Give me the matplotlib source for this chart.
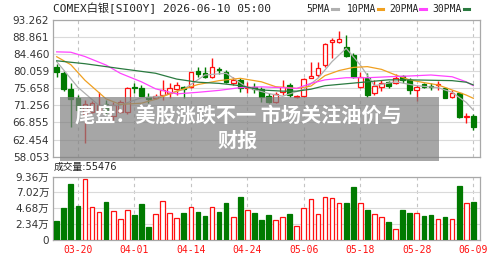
import numpy as np
import matplotlib
matplotlib.use("Agg")
import matplotlib.pyplot as plt
from matplotlib.patches import Rectangle
from matplotlib.lines import Line2D

# daily candles, COMEX silver
opens = [81.01, 79.47, 75.44, 73.2, 69.0, 69.6, 69.6, 71.5, 68.4, 69.6,
         69.6, 76.04, 75.62, 73.47, 73.22, 73.9, 74.33, 75.44, 75.9, 76.04,
         80.07, 79.47, 78.61, 80.6, 79.9, 77.07, 77.76, 75.7, 76.04, 75.44,
         73.65, 72.02, 74.59, 76.47, 73.39, 73.65, 78.36, 79.04, 81.61, 87.61,
         87.61, 86.32, 84.18, 76.04, 78.19, 74.5, 76.04, 77.33, 77.07, 78.79,
         77.76, 75.19, 76.64, 76.3, 76.56, 75.62, 73.47, 74.33, 68.25, 68.5]
highs = [81.87, 80.07, 76.9, 73.9, 72.5, 72.36, 74.76, 72.6, 72.02, 72.6,
         76.04, 76.9, 76.6, 74.33, 74.07, 77.76, 76.9, 77.33, 76.3, 79.9,
         81.18, 81.18, 83.33, 81.18, 80.33, 78.61, 78.19, 77.33, 76.9, 76.04,
         74.33, 74.76, 77.76, 76.9, 73.9, 78.19, 82.47, 82.47, 87.18, 88.46,
         90.35, 89.32, 84.61, 79.9, 79.47, 77.76, 77.76, 77.5, 79.21, 79.04,
         78.36, 76.47, 77.07, 76.9, 77.5, 75.79, 75.19, 74.76, 69.19, 68.93]
lows = [78.61, 74.93, 65.76, 68.8, 61.5, 69.19, 68.9, 68.8, 67.48, 69.19,
        68.94, 74.33, 73.9, 71.76, 72.87, 72.62, 73.05, 73.9, 73.1, 75.62,
        78.61, 78.19, 78.19, 79.21, 76.9, 76.47, 74.76, 74.33, 74.33, 72.19,
        71.76, 71.76, 73.9, 73.47, 73.22, 73.47, 78.19, 78.61, 81.18, 83.5,
        87.18, 83.75, 78.19, 75.62, 73.47, 73.9, 74.93, 75.79, 76.64, 76.9,
        74.07, 72.36, 75.62, 75.19, 75.19, 73.05, 73.05, 67.9, 66.62, 64.91]
closes = [79.73, 75.44, 72.87, 70.05, 71.5, 71.76, 71.33, 69.6, 71.33, 72.02,
          75.61, 75.61, 73.65, 72.87, 73.65, 75.19, 75.62, 76.47, 75.5, 79.73,
          79.21, 78.61, 81.18, 80.24, 77.33, 77.76, 75.62, 75.96, 75.44, 73.47,
          72.02, 74.16, 76.04, 73.9, 73.56, 77.93, 78.87, 80.93, 86.92, 88.04,
          88.29, 84.01, 78.61, 78.61, 73.9, 76.3, 76.9, 76.3, 78.36, 77.76,
          75.19, 76.04, 76.04, 75.96, 76.73, 73.22, 74.5, 68.33, 68.5, 65.76]
# volume, in 万
volumes = [2.75, 4.71, 8.2, 5.0, 9.0, 4.81, 4.07, 5.5, 4.22, 3.0,
           4.37, 3.58, 5.25, 1.91, 3.83, 5.65, 3.93, 3.14, 3.88, 4.81,
           4.12, 3.44, 4.81, 4.12, 5.4, 3.29, 6.38, 4.37, 3.88, 2.9,
           3.63, 2.9, 3.29, 3.78, 2.06, 4.66, 6.04, 3.73, 6.33, 6.19,
           5.4, 5.4, 7.76, 5.4, 4.42, 3.73, 3.29, 2.6, 1.57, 4.42,
           3.88, 3.98, 3.49, 3.63, 3.04, 3.34, 3.04, 7.9, 5.4, 5.55]

ma5_idx = [0, 3, 6, 9, 12, 15, 18, 21, 24, 27, 30, 32, 35, 37, 39, 41, 43, 45, 48, 51, 54, 56, 58, 59]
ma5 = [82.5, 75.9, 71.2, 71.3, 73.2, 73.6, 75.4, 79.05, 79.5, 75.8, 74.3, 73.6, 75.4, 78.2,
       82.5, 85.9, 81.6, 76.3, 77.3, 76.3, 75.8, 74.6, 72.0, 70.05]
ma10_idx = [0, 2, 4, 7, 9, 12, 14, 17, 20, 23, 26, 29, 31, 34, 36, 38, 40, 42, 44, 46, 48, 50, 52, 54, 56, 58, 59]
ma10 = [83.75, 81.7, 77.7, 72.9, 71.5, 71.8, 72.8, 74.9, 76.6, 77.6, 78.2, 77.3, 76.05, 75.6,
        76.2, 78.9, 80.2, 81.0, 81.2, 80.5, 79.05, 77.8, 77.1, 76.5, 75.2, 73.9, 73.06]
ma20_idx = [0, 2, 4, 7, 9, 12, 14, 17, 20, 23, 26, 29, 32, 34, 36, 38, 41, 44, 47, 50, 53, 56, 58, 59]
ma20 = [85.0, 84.9, 83.8, 81.6, 79.5, 77.3, 75.5, 74.2, 74.6, 75.1, 75.8, 76.0, 75.8, 75.6,
        76.9, 77.8, 78.35, 78.35, 78.6, 78.8, 79.05, 78.6, 77.3, 76.3]
ma30_idx = [0, 4, 9, 14, 17, 20, 23, 26, 29, 32, 34, 36, 38, 41, 44, 47, 50, 53, 56, 58, 59]
ma30 = [82.7, 81.95, 80.7, 79.5, 78.0, 77.2, 76.9, 76.3, 75.2, 74.9, 74.9, 75.4, 76.3, 76.8,
        77.3, 77.8, 77.8, 77.7, 77.6, 77.2, 76.5]

date_idx = [3, 11, 19, 27, 35, 43, 51, 59]
date_labels = ["03-20", "04-01", "04-14", "04-24", "05-06", "05-18", "05-28", "06-09"]
price_ticks = [58.053, 62.454, 66.855, 71.256, 75.658, 80.059, 84.460, 88.861, 93.262]
vol_ticks = [0, 2.34, 4.68, 7.02, 9.36]
vol_labels = ["0", "2.34万", "4.68万", "7.02万", "9.36万"]

RED = "#ff1010"
GREEN = "#007a00"
CJK = ["DejaVu Sans", "Noto Sans CJK SC"]
MONO = ["DejaVu Sans Mono", "Noto Sans CJK SC"]

W, H = 500, 260
fig = plt.figure(figsize=(5, 2.6), dpi=100)


def box(l, t, r, b):
    return [l / W, 1 - b / H, (r - l) / W, (b - t) / H]


ax = fig.add_axes(box(53.3, 19.7, 480, 156.7))
axv = fig.add_axes(box(53.3, 176.5, 480, 239.5))

x = np.arange(len(closes))
for i in x:
    up = closes[i] >= opens[i]
    col = RED if up else GREEN
    ax.vlines(i, lows[i], highs[i], color=col, lw=1, zorder=3)
    lo = min(opens[i], closes[i])
    h = max(abs(closes[i] - opens[i]), 0.12)
    ax.add_patch(Rectangle((i - 0.33, lo), 0.66, h, facecolor="white" if up else GREEN,
                           edgecolor=col, lw=0.9, zorder=4))

ax.plot(ma5_idx, ma5, color="#b0b0b0", lw=0.9, zorder=5)
ax.plot(ma10_idx, ma10, color="#f0a020", lw=0.9, zorder=5)
ax.plot(ma20_idx, ma20, color="#ff44ff", lw=0.9, zorder=5)
ax.plot(ma30_idx, ma30, color="#2a7a40", lw=0.9, zorder=5)

up_mask = np.array(closes) >= np.array(opens)
axv.bar(x, volumes, width=0.66, color=["white" if u else GREEN for u in up_mask],
        edgecolor=[RED if u else GREEN for u in up_mask], lw=0.9, zorder=3)

for a in (ax, axv):
    a.set_xlim(-0.48, 59.95)
    for v in date_idx:
        a.axvline(v, color="#c4c4c4", lw=0.8, ls=(0, (3, 3)), zorder=1)
    for s in a.spines.values():
        s.set_color("#a8a8a8")
        s.set_linewidth(0.9)
    a.tick_params(length=0, labelsize=7.5, labelcolor="#333333", pad=3)

ax.set_ylim(price_ticks[0], price_ticks[-1])
ax.set_yticks(price_ticks)
ax.set_yticklabels([f"{v:.3f}" for v in price_ticks])
ax.set_xticks([])
ax.grid(axis="y", color="#dadada", lw=0.8, zorder=0)

axv.set_ylim(0, 9.36)
axv.set_yticks(vol_ticks)
axv.set_yticklabels(vol_labels, family=CJK)
axv.grid(axis="y", color="#dadada", lw=0.8, zorder=0)
axv.set_xticks(date_idx)
axv.set_xticklabels(date_labels, color=RED, family=MONO, fontsize=7)
axv.tick_params(axis="x", pad=4)

fig.text(53.3 / W, 1 - 8.5 / H, "COMEX白银[SI00Y] 2026-06-10 05:00", family=MONO,
         fontsize=8, color="#222222", va="center")
fig.text(54 / W, 1 - 167 / H, "成交量:55476", family=CJK, fontsize=7,
         color="#222222", va="center")

legend = [("5PMA", 306.7, "#b0b0b0"), ("10PMA", 346.7, "#f0a020"),
          ("20PMA", 389, "#ff44ff"), ("30PMA", 432.7, "#2a7a40")]
for name, lx, c in legend:
    t = fig.text(lx / W, 1 - 8.5 / H, name, family=MONO, fontsize=7,
                 color="#222222", va="center")
    end = lx + 5.7 * len(name) + 2.5
    fig.add_artist(Line2D([end / W, (end + 5.5) / W], [1 - 8.5 / H] * 2,
                          transform=fig.transFigure, color=c, lw=2.2))

fig.add_artist(Rectangle((60 / W, 1 - 160.7 / H), (439 - 60) / W, (160.7 - 97.3) / H,
                         transform=fig.transFigure, facecolor="#808080",
                         alpha=0.7, edgecolor="none", zorder=10))
fig.text(238 / W, 1 - 115.5 / H, "尾盘：美股涨跌不一 市场关注油价与", family="Noto Sans CJK SC",
         fontweight="bold", fontsize=14.5, color="white", ha="center", va="center", zorder=11)
fig.text(238 / W, 1 - 140.5 / H, "财报", family="Noto Sans CJK SC",
         fontweight="bold", fontsize=14.5, color="white", ha="center", va="center", zorder=11)

fig.savefig("out.png", dpi=100)
